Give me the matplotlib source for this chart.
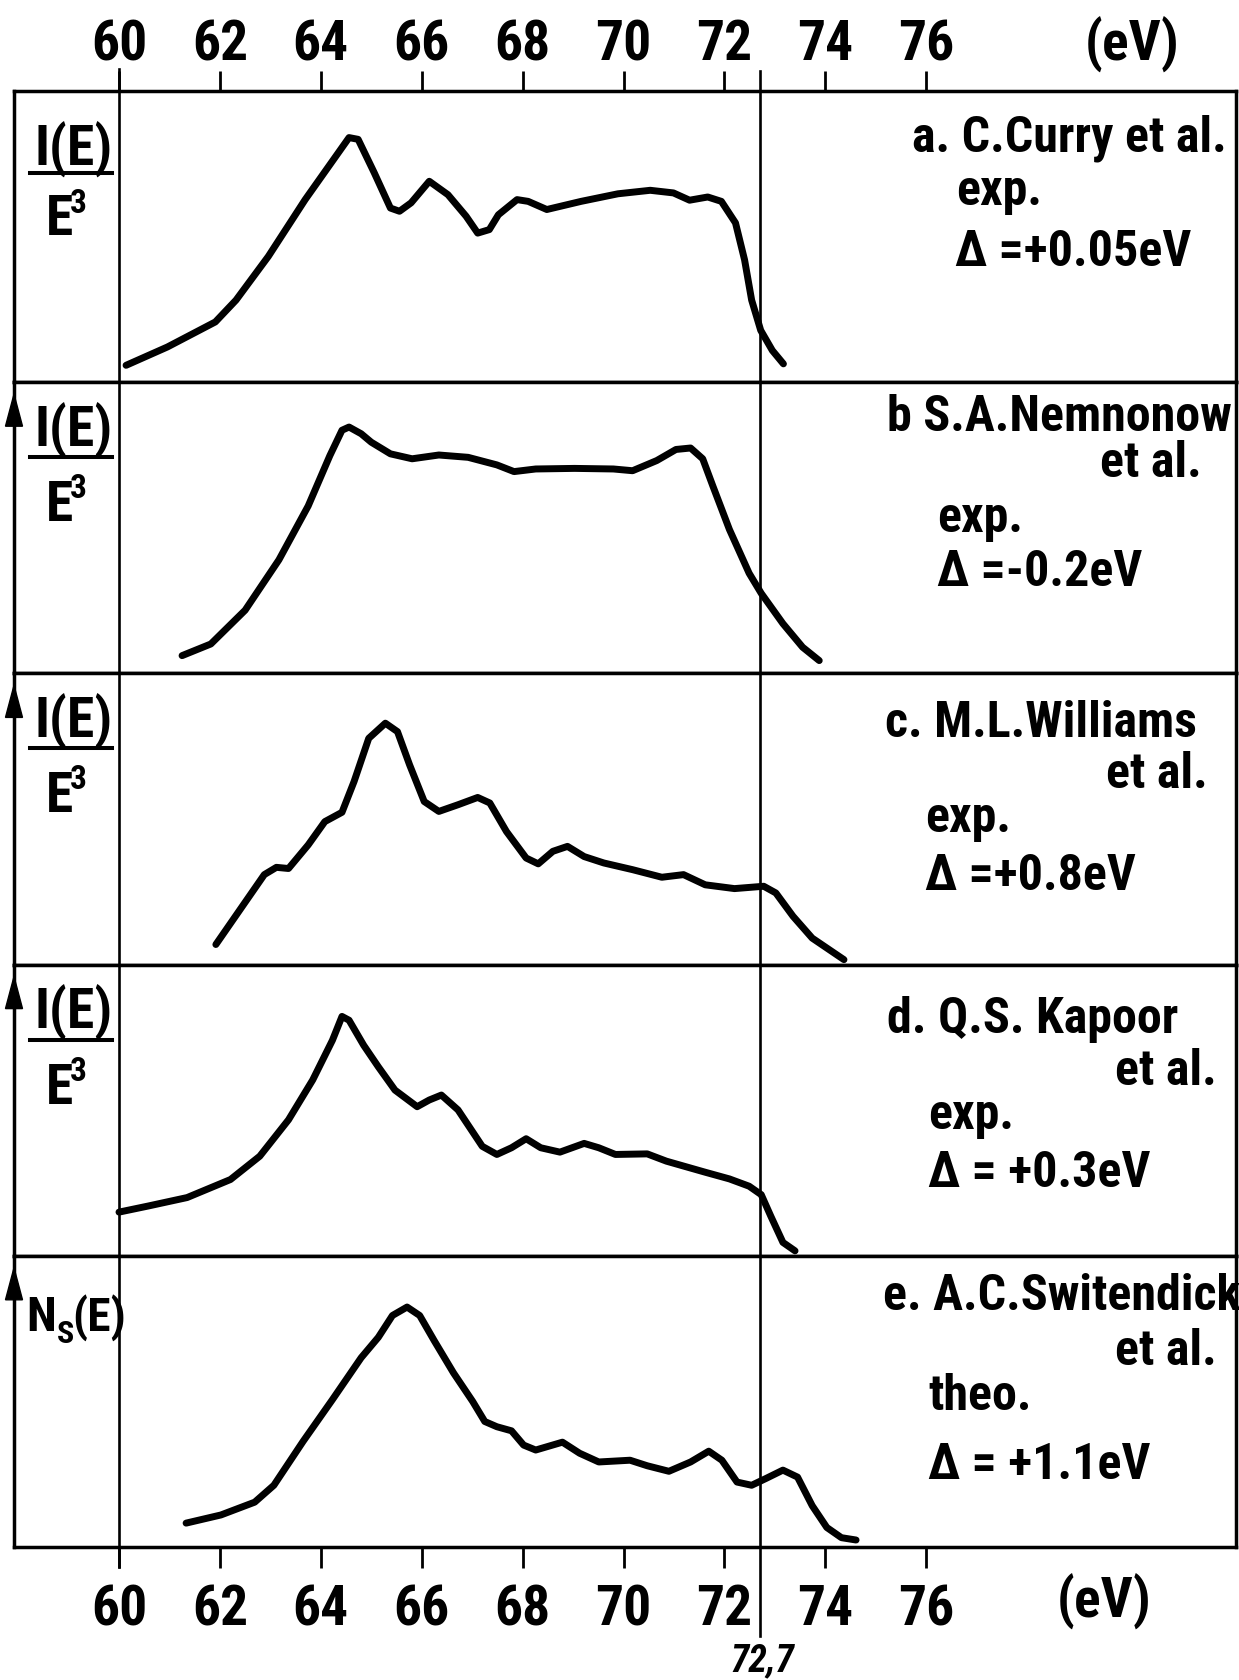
import os
import matplotlib
matplotlib.use("Agg")
import matplotlib.pyplot as plt
from matplotlib import font_manager
from matplotlib.font_manager import FontProperties
from matplotlib.lines import Line2D
from matplotlib.patches import Polygon

a_energy = [60.14, 60.96, 61.91, 62.32, 62.96, 63.69, 64.56, 64.74, 65.06, 65.38, 65.56,
            65.79, 66.15, 66.52, 66.88, 67.11, 67.34, 67.52, 67.89, 68.11, 68.48, 69.16,
            69.89, 70.53, 70.99, 71.31, 71.67, 71.94, 72.22, 72.40, 72.54, 72.72, 72.95, 73.17]
a_intensity = [0.058, 0.121, 0.207, 0.282, 0.432, 0.627, 0.840, 0.834, 0.719, 0.598, 0.587,
               0.616, 0.690, 0.644, 0.570, 0.512, 0.524, 0.575, 0.627, 0.621, 0.593, 0.621,
               0.647, 0.659, 0.650, 0.625, 0.636, 0.621, 0.547, 0.420, 0.282, 0.178, 0.109, 0.063]

b_energy = [61.25, 61.82, 62.50, 63.17, 63.75, 64.18, 64.42, 64.56, 64.80, 65.00, 65.38,
            65.81, 66.34, 66.92, 67.49, 67.83, 68.26, 69.03, 69.80, 70.18, 70.66, 71.04,
            71.33, 71.57, 71.77, 72.10, 72.49, 72.73, 73.16, 73.55, 73.88]
b_intensity = [0.061, 0.101, 0.217, 0.390, 0.575, 0.748, 0.835, 0.846, 0.823, 0.794, 0.754,
               0.737, 0.750, 0.742, 0.716, 0.693, 0.702, 0.704, 0.702, 0.696, 0.731, 0.769,
               0.774, 0.737, 0.644, 0.494, 0.344, 0.275, 0.171, 0.090, 0.044]

c_energy = [61.92, 62.40, 62.88, 63.12, 63.36, 63.75, 64.08, 64.42, 64.66, 64.95, 65.28,
            65.52, 65.76, 66.05, 66.34, 66.72, 67.11, 67.35, 67.68, 68.07, 68.31, 68.60,
            68.89, 69.22, 69.61, 70.18, 70.76, 71.19, 71.62, 72.20, 72.78, 73.02, 73.36,
            73.74, 74.37]
c_intensity = [0.069, 0.189, 0.309, 0.334, 0.330, 0.411, 0.491, 0.523, 0.629, 0.777, 0.829,
               0.800, 0.686, 0.560, 0.526, 0.549, 0.574, 0.555, 0.457, 0.366, 0.346, 0.389,
               0.406, 0.371, 0.349, 0.326, 0.300, 0.309, 0.274, 0.261, 0.269, 0.246, 0.166,
               0.091, 0.017]

d_energy = [60.00, 60.58, 61.35, 62.21, 62.79, 63.36, 63.84, 64.23, 64.42, 64.56, 64.85,
            65.14, 65.47, 65.91, 66.15, 66.39, 66.72, 67.20, 67.49, 67.78, 68.07, 68.36,
            68.74, 69.22, 69.51, 69.84, 70.47, 70.85, 71.62, 72.10, 72.49, 72.73, 72.92,
            73.16, 73.40]
d_intensity = [0.150, 0.171, 0.200, 0.262, 0.342, 0.467, 0.604, 0.740, 0.822, 0.809, 0.723,
               0.649, 0.569, 0.512, 0.535, 0.552, 0.501, 0.376, 0.348, 0.371, 0.402, 0.371,
               0.356, 0.386, 0.371, 0.348, 0.350, 0.325, 0.287, 0.264, 0.239, 0.210, 0.136,
               0.046, 0.017]

e_energy = [61.33, 62.02, 62.69, 63.07, 63.65, 64.23, 64.80, 65.14, 65.42, 65.71, 65.96,
            66.25, 66.63, 67.01, 67.25, 67.49, 67.78, 68.02, 68.26, 68.79, 69.13, 69.51,
            70.13, 70.47, 70.90, 71.33, 71.69, 71.95, 72.25, 72.54, 72.82, 73.16, 73.45,
            73.74, 74.03, 74.32, 74.61]
e_intensity = [0.082, 0.110, 0.154, 0.212, 0.363, 0.506, 0.650, 0.720, 0.795, 0.824, 0.795,
               0.708, 0.598, 0.500, 0.431, 0.413, 0.399, 0.350, 0.333, 0.360, 0.322, 0.292,
               0.298, 0.279, 0.260, 0.292, 0.329, 0.298, 0.223, 0.212, 0.235, 0.264, 0.240,
               0.142, 0.067, 0.032, 0.024]

energies = [a_energy, b_energy, c_energy, d_energy, e_energy]
intensities = [a_intensity, b_intensity, c_intensity, d_intensity, e_intensity]

tick_values = [60, 62, 64, 66, 68, 70, 72, 74, 76]
tick_labels = [str(v) for v in tick_values]
origin_energy = 60
edge_energy = 72.7
edge_label = "72,7"
unit_label = "(eV)"

authors = ["a. C.Curry et al.", "b S.A.Nemnonow", "c. M.L.Williams",
           "d. Q.S. Kapoor", "e. A.C.Switendick"]
etal = [None, "et al.", "et al.", "et al.", "et al."]
kinds = ["exp.", "exp.", "exp.", "exp.", "theo."]
shifts = ["\u0394 =+0.05eV", "\u0394 =-0.2eV", "\u0394 =+0.8eV",
          "\u0394 = +0.3eV", "\u0394 = +1.1eV"]


# ---------------------------------------------------------------- font
# the original lettering is a narrow DIN-like face; look for a condensed bold font
def find_narrow():
    prefs = ['robotocondensed-bold', 'liberationsansnarrow-bold', 'dejavusanscondensed-bold',
             'notosans-condensedbold', 'opensans-condbold', 'opensans-condensedbold']
    files = [f.fname for f in font_manager.fontManager.ttflist]
    for key in prefs:
        for path in files:
            base = os.path.basename(path).lower().replace('_', '')
            if base.startswith(key) and 'italic' not in base:
                return path
    for path in files:
        base = os.path.basename(path).lower()
        if ('condensed' in base or 'narrow' in base) and 'bold' in base and 'italic' not in base:
            return path
    return None


narrow_path = find_narrow()
italic_path = None
if narrow_path:
    scale = 1.0
    for cand in [narrow_path.replace('-Bold.', '-BoldItalic.'),
                 narrow_path.replace('-Bold.', '-Italic.')]:
        if os.path.exists(cand):
            italic_path = cand
            break
else:
    scale = 0.8


def fp(size, italic=False):
    if italic and italic_path:
        return FontProperties(fname=italic_path, size=size * scale)
    if narrow_path:
        return FontProperties(fname=narrow_path, size=size * scale)
    return FontProperties(family='DejaVu Sans', weight='bold', size=size * scale)


# ---------------------------------------------------------------- layout
W, H = 1239, 1681
fig = plt.figure(figsize=(W / 100, H / 100), dpi=100)


def fx(px):
    return px / W


def fy(py):
    return 1 - py / H


box_left, box_right = 14, 1236
box_top, box_bottom = 92, 1548
x60_px, px_per_ev = 119, 50.45
x_lo = 60 - (x60_px - box_left) / px_per_ev
x_hi = 60 + (box_right - x60_px) / px_per_ev
panel_h = (box_bottom - box_top) / 5

frame_lw = 2.5
curve_lw = 5.0
vline_lw = 1.9
big = 36

axes = []
for i in range(5):
    top = box_top + i * panel_h
    ax = fig.add_axes([fx(box_left), fy(top + panel_h), (box_right - box_left) / W, panel_h / H])
    ax.set_xlim(x_lo, x_hi)
    ax.set_ylim(0, 1)
    for sp in ax.spines.values():
        sp.set_linewidth(frame_lw)
    ax.set_yticks([])
    ax.axvline(origin_energy, color='black', lw=vline_lw)
    ax.axvline(edge_energy, color='black', lw=vline_lw)
    ax.plot(energies[i], intensities[i], color='black', lw=curve_lw,
            solid_capstyle='round', solid_joinstyle='round')
    axes.append(ax)

# top energy scale
ax0 = axes[0]
ax0.set_xticks(tick_values)
ax0.set_xticklabels(tick_labels)
ax0.xaxis.set_ticks_position('top')
ax0.tick_params(axis='x', direction='out', length=14.5, width=2, pad=0.5,
                top=True, bottom=False, labeltop=True, labelbottom=False)
for lbl in ax0.get_xticklabels(which='both'):
    lbl.set_fontproperties(fp(40))
for v, y_end in [(origin_energy, 70), (edge_energy, 72)]:
    ax0.plot([v, v], [1, 1 + (box_top - y_end) / panel_h], color='black', lw=vline_lw,
             clip_on=False)

# bottom energy scale
ax4 = axes[4]
ax4.set_xticks(tick_values)
ax4.set_xticklabels(tick_labels)
ax4.tick_params(axis='x', direction='out', length=15, width=2, pad=11)
for lbl in ax4.get_xticklabels():
    lbl.set_fontproperties(fp(40))
for v, y_end in [(origin_energy, 1568), (edge_energy, 1637)]:
    ax4.plot([v, v], [0, -(y_end - box_bottom) / panel_h], color='black', lw=vline_lw,
             clip_on=False)

for ax in axes[1:4]:
    ax.set_xticks([])

fig.text(fx(1132), fy(61), unit_label, fontproperties=fp(40), ha='center', va='baseline')
fig.text(fx(1104), fy(1618), unit_label, fontproperties=fp(40), ha='center', va='baseline')
fig.text(fx(762), fy(1671), edge_label, fontproperties=fp(27, italic=True), ha='center',
         va='baseline')

# left axis labels
for i in range(5):
    top = box_top + i * panel_h
    if i > 0:
        # arrow head on the left frame line
        ax = axes[i]
        tip = 1 - 12 / panel_h
        base = 1 - 44 / panel_h
        half = 8.5 / (box_right - box_left)
        ax.add_patch(Polygon([(-half, base), (0, tip), (half, base)], closed=True,
                             transform=ax.transAxes, color='black', clip_on=False))
    if i == 4:
        fig.text(fx(26), fy(top + 74), "N", fontproperties=fp(35), ha='left', va='baseline')
        fig.text(fx(57), fy(top + 86), "S", fontproperties=fp(23), ha='left', va='baseline')
        fig.text(fx(72), fy(top + 74), "(E)", fontproperties=fp(34), ha='left', va='baseline')
        continue
    if i == 0:
        off = (74, 82, 143, 121)
    else:
        off = (63, 75, 138, 115)
    fig.text(fx(74), fy(top + off[0]), "I(E)", fontproperties=fp(40), ha='center', va='baseline')
    fig.add_artist(Line2D([fx(30), fx(112)], [fy(top + off[1])] * 2, color='black', lw=2.9))
    fig.text(fx(46), fy(top + off[2]), "E", fontproperties=fp(40), ha='left', va='baseline')
    fig.text(fx(70), fy(top + off[3]), "3", fontproperties=fp(24), ha='left', va='baseline')

# panel annotations: (x, baseline) in pixels
author_pos = [(912, 152), (887, 431), (885, 737), (887, 1033), (883, 1310)]
etal_pos = [None, (1202, 477), (1208, 788), (1217, 1085), (1217, 1365)]
kind_pos = [(956, 205), (937, 532), (925, 832), (928, 1129), (928, 1410)]
shift_pos = [(955, 266), (937, 586), (925, 890), (928, 1187), (928, 1479)]

for i in range(5):
    x, y = author_pos[i]
    fig.text(fx(x), fy(y), authors[i], fontproperties=fp(big), ha='left', va='baseline')
    if etal[i]:
        x, y = etal_pos[i]
        fig.text(fx(x), fy(y), etal[i], fontproperties=fp(big), ha='right', va='baseline')
    x, y = kind_pos[i]
    fig.text(fx(x), fy(y), kinds[i], fontproperties=fp(big), ha='left', va='baseline')
    x, y = shift_pos[i]
    fig.text(fx(x), fy(y), shifts[i], fontproperties=fp(big), ha='left', va='baseline')

fig.savefig("out.png", dpi=100, facecolor='white')
